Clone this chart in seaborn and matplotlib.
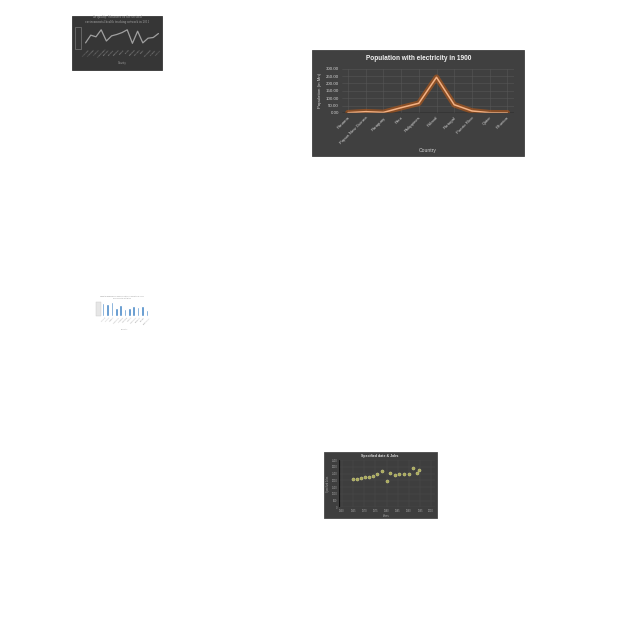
import matplotlib
matplotlib.use("Agg")
import matplotlib.pyplot as plt
import seaborn as sns
import pandas as pd
import numpy as np
from matplotlib.patches import Rectangle

sns.set_theme(style="dark")
plt.rcParams['font.family'] = ['Liberation Sans', 'DejaVu Sans']

W = H = 640.0

# ---------------- data ----------------
# main chart
countries = ["Panama", "Papua New Guinea", "Paraguay", "Peru", "Philippines",
             "Poland", "Portugal", "Puerto Rico", "Qatar", "Réunion"]
population = [2, 9, 4, 36, 66, 242, 56, 14, 2, 1]
pop_ticks = [0, 50, 100, 150, 200, 250, 300]

# top-left small line chart
small_cats = ["Armenia", "Australia", "Austria", "Azerbaijan", "Bahrain", "Belarus",
              "Belgium", "Bolivia", "Brazil", "Bulgaria", "Canada", "Chile",
              "Colombia", "Croatia", "Cyprus"]
small_vals = [22, 55, 48, 78, 30, 52, 58, 66, 78, 20, 72, 22, 42, 45, 62]

# bar chart
bar_cats = ["Albania", "Algeria", "Angola", "Argentina", "Armenia", "Australia",
            "Austria", "Azerbaijan", "Bahamas", "Bahrain", "Bangladesh"]
bar_vals = [37, 34, 39, 22, 31, 19, 22, 29, 26, 29, 16]

# scatter chart
sc_x = [0.95, 1.34, 1.73, 2.03, 2.39, 2.75, 3.13, 3.58, 4.03, 4.33, 4.78, 5.13,
        5.52, 5.97, 6.33, 6.72, 6.93]
sc_y = [2070, 2120, 2190, 2220, 2270, 2320, 2440, 2710, 1920, 2560, 2390, 2440,
        2440, 2460, 2880, 2560, 2760]
sc_xticklabels = ["1960", "1965", "1970", "1975", "1980", "1985", "1990", "1995", "2000"]
sc_yticks = [0, 500, 1000, 1500, 2000, 2500, 3000, 3500]


def frac(x0, y0, x1, y1):
    return [x0 / W, 1 - y1 / H, (x1 - x0) / W, (y1 - y0) / H]


fig = plt.figure(figsize=(6.4, 6.4), dpi=100)
fig.patch.set_facecolor("white")


def panel(rect_px, color, edge=None):
    x0, y0, x1, y1 = rect_px
    fig.patches.append(Rectangle((x0 / W, 1 - y1 / H), (x1 - x0) / W, (y1 - y0) / H,
                                 transform=fig.transFigure, facecolor=color,
                                 edgecolor=edge if edge else color, lw=0.6, zorder=-10))


def style_dark(ax, tc="#bfbfbf"):
    ax.set_facecolor("none")
    for s in ax.spines.values():
        s.set_visible(False)
    ax.tick_params(colors=tc, length=0, pad=1)


# ---------------- panel 1: top-left line chart ----------------
panel((72, 16, 162, 70), "#363636")
ax1 = fig.add_axes(frac(84, 27, 160, 48))
style_dark(ax1, "#9a9a9a")
df1 = pd.DataFrame({"c": small_cats, "v": small_vals})
sns.lineplot(data=df1, x="c", y="v", ax=ax1, color="#a0a0a0", lw=0.9, sort=False)
ax1.set_ylim(0, 90)
ax1.set_xlim(-0.3, len(small_cats) - 0.7)
ax1.axhline(0, color="#9a9a9a", lw=0.6)
ax1.set_yticks([])
ax1.tick_params(axis="x", labelsize=1.7, rotation=45)
ax1.set_xlabel("Country", fontsize=1.8, color="#9a9a9a", labelpad=2)
ax1.set_ylabel("")
ax1.grid(False)
fig.text(117 / W, 1 - 19.5 / H, "Air quality: Measures on the sectoral\nenvironmental health tracking network in 2011",
         ha="center", va="center", fontsize=1.9, color="#a0a0a0", family="DejaVu Serif")
fig.patches.append(Rectangle((75 / W, 1 - 49 / H), 6 / W, 22 / H, transform=fig.transFigure,
                             facecolor="none", edgecolor="#8a8a8a", lw=0.4, zorder=1))

# ---------------- panel 2: main chart ----------------
panel((312, 50, 524, 156), "#404040")
ax2 = fig.add_axes(frac(341.8, 68.7, 513.5, 113))
style_dark(ax2, "#d0d0d0")
df2 = pd.DataFrame({"Country": countries, "Population": population})
sns.lineplot(data=df2, x="Country", y="Population", ax=ax2, color="#c55a11",
             lw=4.0, alpha=0.55, sort=False)
sns.lineplot(data=df2, x="Country", y="Population", ax=ax2, color="#f4b183",
             lw=1.1, sort=False)
ax2.set_ylim(0, 300)
ax2.set_xlim(-0.35, 9.35)
ax2.set_yticks(pop_ticks)
ax2.set_yticklabels([f"{t:.2f}" for t in pop_ticks])
ax2.grid(True, color="#575757", lw=0.4)
ax2.axhline(0, color="#111111", lw=1.0)
ax2.tick_params(axis="y", labelsize=3.2, pad=2)
ax2.tick_params(axis="x", labelsize=3.2, pad=2)
for lab in ax2.get_xticklabels():
    lab.set_rotation(45)
    lab.set_ha("right")
    lab.set_rotation_mode("anchor")
ax2.set_xlabel("Country", fontsize=3.6, color="#d0d0d0", labelpad=2)
ax2.set_ylabel("Population (in Mn)", fontsize=3.2, color="#d0d0d0", labelpad=3)
fig.text(419 / W, 1 - 58.5 / H, "Population with electricity in 1900", ha="center", va="center",
         fontsize=4.7, color="#f2f2f2", fontweight="bold")

# ---------------- panel 3: bar chart ----------------
ax3 = fig.add_axes(frac(101, 302, 149, 316))
ax3.set_facecolor("white")
df3 = pd.DataFrame({"c": bar_cats, "v": bar_vals})
sns.barplot(data=df3, x="c", y="v", ax=ax3, color="#4a8ac8", width=0.6, saturation=1)
for s in ax3.spines.values():
    s.set_visible(False)
ax3.set_ylim(0, 40)
ax3.set_yticks([])
ax3.tick_params(axis="x", labelsize=1.3, rotation=45, colors="#9a9a9a", length=0, pad=1)
ax3.set_xlabel("Country", fontsize=1.5, color="#9a9a9a", labelpad=3)
ax3.set_ylabel("")
ax3.grid(False)
fig.patches.append(Rectangle((96 / W, 1 - 316 / H), 5 / W, 14 / H, transform=fig.transFigure,
                             facecolor="#e6e6e6", edgecolor="#c8c8c8", lw=0.3, zorder=1))
fig.text(122 / W, 1 - 297.5 / H, "Hospital beds per 10 000 population in Country in 2013\nWorld Health Statistics",
         ha="center", va="center", fontsize=1.3, color="#8a8a8a")

# ---------------- panel 4: scatter chart ----------------
panel((324, 452, 437, 518), "#3e3e3e", edge="#4a4a4a")
ax4 = fig.add_axes(frac(338.7, 460, 434.6, 507.3))
style_dark(ax4, "#a8a8a8")
df4 = pd.DataFrame({"x": sc_x, "y": sc_y})
sns.scatterplot(data=df4, x="x", y="y", ax=ax4, color="#b4b45a", s=5, edgecolor="#e0e0a0",
                linewidth=0.3, alpha=0.9)
ax4.set_xlim(-0.3, 8.3)
ax4.set_ylim(0, 3500)
ax4.set_xticks(range(len(sc_xticklabels)))
ax4.set_xticklabels(sc_xticklabels)
ax4.set_yticks(sc_yticks)
ax4.grid(True, color="#4f4f4f", lw=0.3)
ax4.axvline(-0.3, color="#111111", lw=0.8)
ax4.tick_params(labelsize=1.8, pad=1)
ax4.set_xlabel("Years", fontsize=2, color="#a8a8a8", labelpad=1)
ax4.set_ylabel("Specified Jobs", fontsize=1.8, color="#a8a8a8", labelpad=1)
fig.text(380 / W, 1 - 456.5 / H, "Specified date & Jobs", ha="center", va="center",
         fontsize=2.6, color="#e0e0e0", fontweight="bold")

fig.savefig("out.png", dpi=100, facecolor="white")
